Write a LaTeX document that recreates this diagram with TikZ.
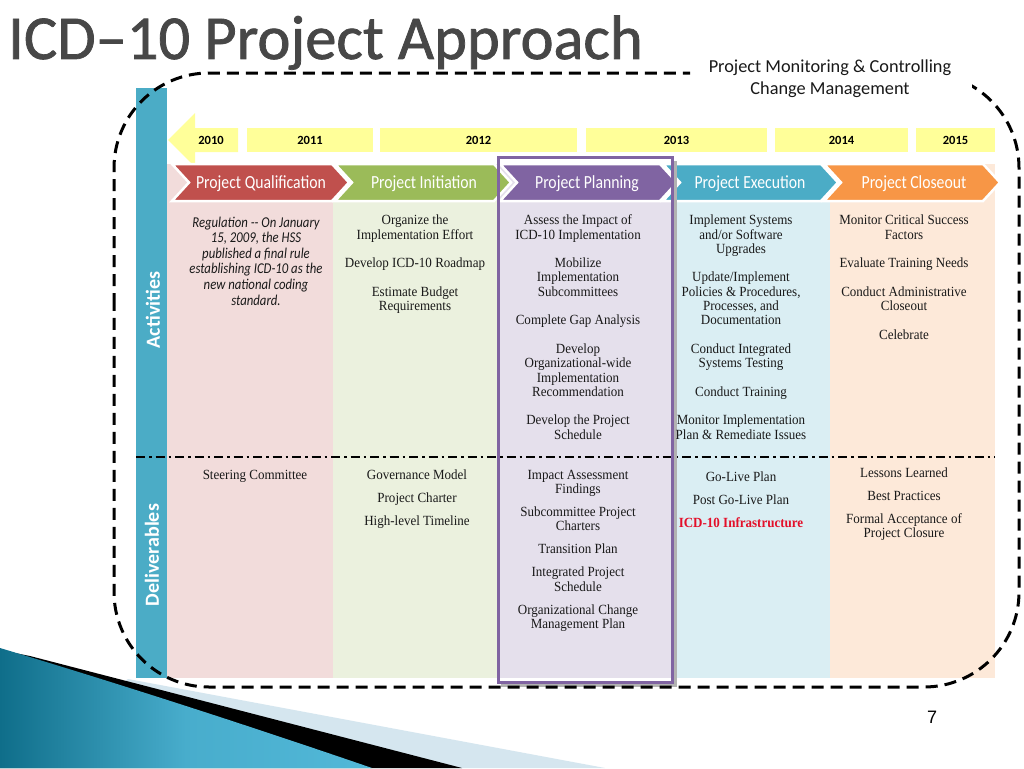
\documentclass[tikz,border=0pt]{standalone}
\usepackage{fontspec}
\setmainfont{Liberation Serif}
\newfontfamily\bodyfont[FakeStretch=0.93]{Liberation Serif}
\newfontfamily\headfont[FakeStretch=0.85]{Carlito}
\newfontfamily\calfont{Carlito}
\newfontfamily\titlefont[FakeBold=1.2]{Carlito}
\newfontfamily\numfont{Liberation Sans}
\definecolor{cRed}{HTML}{C0504D}
\definecolor{cGreen}{HTML}{9BBB59}
\definecolor{cPurple}{HTML}{8064A2}
\definecolor{cBlue}{HTML}{4BACC6}
\definecolor{cOrange}{HTML}{F79646}
\definecolor{bPink}{HTML}{F2DCDB}
\definecolor{bGreen}{HTML}{EBF1DE}
\definecolor{bPurple}{HTML}{E5E0EC}
\definecolor{bBlue}{HTML}{DAEEF3}
\definecolor{bOrange}{HTML}{FDE9D9}
\definecolor{yel}{HTML}{FFFF99}
\definecolor{infra}{HTML}{E3102A}
\definecolor{tealDark}{HTML}{0F6E8A}
\definecolor{tealLight}{HTML}{52B8D8}
\definecolor{paleBand}{HTML}{D5E6EF}
\definecolor{titleGray}{HTML}{474747}
\newcommand\chevshape[4]{%
  \filldraw[fill=#4, draw=white, line width=2.5pt, line join=miter]
    (#1,164) -- (#2,164) -- (#3,182.5) -- (#2,201) -- (#1,201) -- ({#1+17},182.5) -- cycle;}
\begin{document}
\begin{tikzpicture}[x=1pt,y=-1pt,
  titlestyle/.style={anchor=base west, inner sep=0pt, font=\titlefont\fontsize{62.5}{70}\selectfont},
  yearbox/.style={fill=yel, inner sep=0pt, minimum height=24pt, text height=8pt, text depth=0pt,
     font=\calfont\bfseries\fontsize{12.5}{14}\selectfont},
  phase/.style={anchor=base, inner sep=0pt, text=white, font=\headfont\fontsize{18.5}{20}\selectfont},
  act/.style={anchor=north, inner sep=0pt, align=center, text=black!90,
     font=\bodyfont\fontsize{14}{14.3}\selectfont},
  side/.style={rotate=90, inner sep=0pt, text=white, font=\calfont\bfseries\fontsize{20}{24}\selectfont},
  frame/.style={draw=black, line width=3pt, dash pattern=on 12pt off 7pt, rounded corners=95pt},
  dashdot/.style={draw=black, line width=2.2pt, dash pattern=on 9pt off 4pt on 2.5pt off 4pt}]
\useasboundingbox (0,0) rectangle (1024,768);
\fill[white] (0,0) rectangle (1024,768);

% bottom-left decoration
\fill[paleBand] (128,679) -- (605,768) -- (0,768) -- cycle;
\fill[black] (30,656) -- (462,768) -- (0,768) -- (0,650) -- cycle;
\shade[left color=tealDark, right color=tealLight, middle color=tealLight!85!tealDark]
  (0,648) .. controls (120,684) and (250,726) .. (372,768) -- (0,768) -- cycle;

% title
\node[titlestyle, text=titleGray] (title) at (8,59) {ICD–10 Project Approach};

% monitoring text
\node[anchor=north, inner sep=0pt, align=center, text=black!90,
  font=\calfont\fontsize{18.3}{22.3}\selectfont] (monitor) at (830,56.5)
  {\strut Project Monitoring \& Controlling\\Change Management};

% side bar
\fill[cBlue] (136,88) rectangle (167,678);

% column backgrounds
\fill[bPink] (167,164) rectangle (333,678);
\fill[bGreen] (333,164) rectangle (498,678);
\fill[bPurple] (498,164) rectangle (672,678);
\fill[bBlue] (672,164) rectangle (830,678);
\fill[bOrange] (830,164) rectangle (995,678);

% years
\fill[yel] (238,128) -- (195,128) -- (195,113) -- (168,140) -- (195,167) -- (195,152) -- (238,152) -- cycle;
\node[yearbox, fill=none] (y2010) at (211,140) {2010};
\node[yearbox, minimum width=126pt] (y2011) at (310,140) {2011};
\node[yearbox, minimum width=197pt] (y2012) at (478.5,140) {2012};
\node[yearbox, minimum width=181pt] (y2013) at (676.5,140) {2013};
\node[yearbox, minimum width=133pt] (y2014) at (841.5,140) {2014};
\node[yearbox, minimum width=79pt] (y2015) at (955.5,140) {2015};

% phase chevrons
\chevshape{172}{332}{349}{cRed}
\chevshape{335}{494}{511}{cGreen}
\chevshape{500}{660}{677}{cPurple}
\chevshape{663}{821}{838}{cBlue}
\chevshape{824}{983}{1000}{cOrange}
\node[phase] (p1) at (261,188.5) {Project Qualification};
\node[phase] (p2) at (424,188.5) {Project Initiation};
\node[phase] (p3) at (587,188.5) {Project Planning};
\node[phase] (p4) at (750,188.5) {Project Execution};
\node[phase] (p5) at (914,188.5) {Project Closeout};

% separator
\draw[dashdot] (136,457) -- (995,457);

% highlight box with soft shadow
\draw[black!30, line width=3pt] (675.5,161) -- (675.5,685) -- (501,685);
\draw[cPurple, line width=3pt] (498,157.5) rectangle (672.5,682);

% side labels
\node[side] (activities) at (153,310) {Activities};
\node[side] (deliverables) at (152,555) {Deliverables};

% activities
\node[act, font=\headfont\itshape\fontsize{15}{15.6}\selectfont] (a1) at (256,216)
  {\strut Regulation -{}- On January\\15, 2009, the HSS\\published a final rule\\establishing ICD-10 as the\\new national coding\\standard.};
\node[act] (a2) at (415,214.5)
  {\strut Organize the\\Implementation Effort\\[14.3pt]Develop ICD-10 Roadmap\\[14.3pt]Estimate Budget\\Requirements};
\node[act] (a3) at (578,214.5)
  {\strut Assess the Impact of\\ICD-10 Implementation\\[14.3pt]Mobilize\\Implementation\\Subcommittees\\[14.3pt]Complete Gap Analysis\\[14.3pt]Develop\\Organizational-wide\\Implementation\\Recommendation\\[14.3pt]Develop the Project\\Schedule};
\node[act] (a4) at (741,214.5)
  {\strut Implement Systems\\and/or Software\\Upgrades\\[14.3pt]Update/Implement\\Policies \& Procedures,\\Processes, and\\Documentation\\[14.3pt]Conduct Integrated\\Systems Testing\\[14.3pt]Conduct Training\\[14.3pt]Monitor Implementation\\Plan \& Remediate Issues};
\node[act] (a5) at (904,214.5)
  {\strut Monitor Critical Success\\Factors\\[14.3pt]Evaluate Training Needs\\[14.3pt]Conduct Administrative\\Closeout\\[14.3pt]Celebrate};

% deliverables
\node[act] (d1) at (255,469) {\strut Steering Committee};
\node[act] (d2) at (417,469)
  {\strut Governance Model\\[8.7pt]Project Charter\\[8.7pt]High-level Timeline};
\node[act] (d3) at (578,469)
  {\strut Impact Assessment\\Findings\\[8.7pt]Subcommittee Project\\Charters\\[8.7pt]Transition Plan\\[8.7pt]Integrated Project\\Schedule\\[8.7pt]Organizational Change\\Management Plan};
\node[act] (d4) at (741,471)
  {\strut Go-Live Plan\\[8.7pt]Post Go-Live Plan\\[8.7pt]\textcolor{infra}{\bfseries ICD-10 Infrastructure}};
\node[act] (d5) at (904,467)
  {\strut Lessons Learned\\[8.7pt]Best Practices\\[8.7pt]Formal Acceptance of\\Project Closure};

% dashed monitoring frame, open behind the caption
\begin{scope}
  \clip (0,0) rectangle (690,768);
  \draw[frame] (114,400) -- (114,73) -- (1019,73) -- (1019,687) -- (114,687) -- cycle;
\end{scope}
\begin{scope}
  \clip (690,95) -- (972,95) -- (972,0) -- (1024,0) -- (1024,768) -- (690,768) -- cycle;
  \draw[frame] (114,400) -- (114,73) -- (1019,73) -- (1019,687) -- (114,687) -- cycle;
\end{scope}

% page number
\node[anchor=base, inner sep=0pt, font=\numfont\fontsize{18}{20}\selectfont] (pagenum) at (932,723.5) {7};
\end{tikzpicture}
\end{document}
